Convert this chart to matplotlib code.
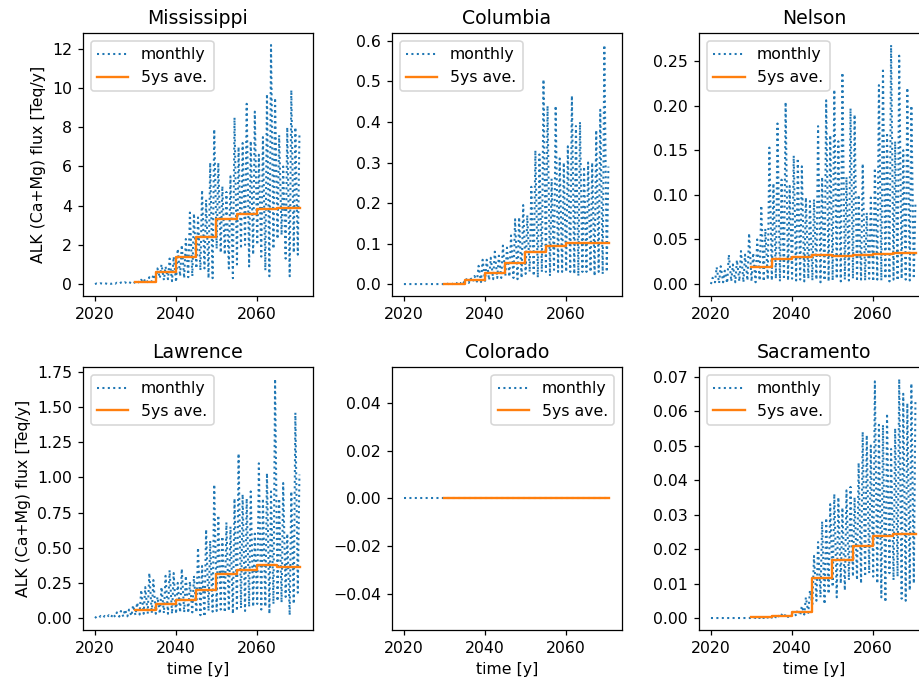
import numpy as np
import matplotlib
matplotlib.use('Agg')
import matplotlib.pyplot as plt

years = list(range(2020, 2071))
avg_years = [2030, 2035, 2040, 2045, 2050, 2055, 2060, 2065]
avg_end = 2070.6

# yearly peak / trough of the monthly flux [Teq/y]
miss_high = [0.03, 0.04, 0.05, 0.05, 0.06, 0.07, 0.08, 0.09, 0.10, 0.12,
             0.15, 0.22, 0.28, 0.35, 0.50, 0.80, 1.00, 0.90, 1.30, 1.40,
             1.80, 2.00, 2.30, 3.65, 3.60, 3.40, 4.80, 4.30, 6.20, 7.90,
             6.20, 5.00, 4.70, 5.50, 8.50, 7.00, 7.20, 9.20, 7.30, 8.80,
             6.60, 7.50, 9.70, 12.20, 9.50, 7.60, 6.00, 8.00, 9.90, 8.00,
             7.60]
miss_low = [0.0, 0.0, 0.01, 0.01, 0.01, 0.02, 0.02, 0.03, 0.03, 0.04,
            0.05, 0.06, 0.08, 0.10, 0.12, 0.20, 0.30, 0.20, 0.25, 0.15,
            0.10, 0.40, 0.30, 0.35, 0.40, 0.80, 0.70, 0.80, 0.30, 0.30,
            1.80, 1.60, 1.50, 0.80, 0.30, 1.00, 1.80, 2.00, 0.90, 1.50,
            2.00, 1.40, 0.70, 0.40, 1.80, 2.30, 2.50, 1.30, 0.40, 1.60,
            1.50]
miss_avg = [0.13, 0.60, 1.38, 2.40, 3.30, 3.60, 3.85, 3.90]

colu_high = [0, 0, 0, 0, 0, 0, 0, 0, 0, 0,
             0.002, 0.003, 0.004, 0.006, 0.008, 0.012, 0.015, 0.020, 0.045, 0.060,
             0.060, 0.065, 0.080, 0.070, 0.095, 0.090, 0.120, 0.160, 0.165, 0.195,
             0.170, 0.240, 0.330, 0.320, 0.505, 0.440, 0.260, 0.440, 0.310, 0.300,
             0.340, 0.465, 0.390, 0.400, 0.290, 0.300, 0.300, 0.380, 0.430, 0.590,
             0.290]
colu_low = [0, 0, 0, 0, 0, 0, 0, 0, 0, 0,
            0, 0, 0, 0.001, 0.001, 0.002, 0.003, 0.005, 0.006, 0.005,
            0.008, 0.010, 0.012, 0.015, 0.015, 0.020, 0.018, 0.015, 0.012, 0.015,
            0.025, 0.030, 0.020, 0.016, 0.030, 0.030, 0.020, 0.035, 0.030, 0.030,
            0.030, 0.030, 0.025, 0.020, 0.030, 0.030, 0.030, 0.020, 0.030, 0.025,
            0.030]
colu_avg = [0.001, 0.010, 0.027, 0.051, 0.080, 0.093, 0.101, 0.102]

nels_high = [0.007, 0.019, 0.020, 0.015, 0.033, 0.022, 0.027, 0.037, 0.033, 0.057,
             0.035, 0.050, 0.088, 0.062, 0.153, 0.113, 0.180, 0.117, 0.204, 0.110,
             0.144, 0.141, 0.132, 0.097, 0.093, 0.095, 0.177, 0.120, 0.206, 0.167,
             0.218, 0.160, 0.237, 0.120, 0.197, 0.190, 0.100, 0.135, 0.080, 0.097,
             0.130, 0.223, 0.242, 0.170, 0.268, 0.160, 0.256, 0.150, 0.220, 0.200,
             0.090]
nels_low = [0.000, 0.002, 0.001, 0.002, 0.001, 0.003, 0.002, 0.003, 0.002, 0.004,
            0.003, 0.002, 0.004, 0.003, 0.005, 0.004, 0.006, 0.003, 0.005, 0.004,
            0.006, 0.004, 0.005, 0.003, 0.006, 0.004, 0.005, 0.002, 0.004, 0.003,
            0.004, 0.006, 0.003, 0.005, 0.004, 0.006, 0.003, 0.005, 0.004, 0.006,
            0.003, 0.005, 0.004, 0.006, 0.003, 0.005, 0.004, 0.006, 0.005, 0.004,
            0.006]
nels_avg = [0.019, 0.028, 0.030, 0.033, 0.031, 0.033, 0.034, 0.0345]

lawr_high = [0.010, 0.015, 0.015, 0.020, 0.030, 0.040, 0.050, 0.060, 0.060, 0.090,
             0.110, 0.200, 0.220, 0.320, 0.270, 0.150, 0.220, 0.300, 0.340, 0.320,
             0.250, 0.350, 0.300, 0.260, 0.300, 0.500, 0.370, 0.630, 0.550, 0.950,
             0.730, 0.580, 0.680, 0.650, 0.850, 1.170, 0.880, 0.850, 0.900, 0.600,
             1.100, 0.850, 1.030, 0.900, 1.700, 0.850, 0.960, 0.600, 0.900, 1.460,
             1.020]
lawr_low = [0.000, 0.002, 0.003, 0.005, 0.005, 0.008, 0.010, 0.010, 0.012, 0.015,
            0.020, 0.025, 0.030, 0.030, 0.035, 0.030, 0.030, 0.035, 0.030, 0.030,
            0.030, 0.040, 0.040, 0.035, 0.040, 0.040, 0.020, 0.010, 0.050, 0.045,
            0.050, 0.060, 0.040, 0.050, 0.030, 0.050, 0.070, 0.050, 0.080, 0.080,
            0.100, 0.060, 0.080, 0.030, 0.100, 0.120, 0.110, 0.150, 0.020, 0.100,
            0.180]
lawr_avg = [0.057, 0.100, 0.125, 0.200, 0.310, 0.340, 0.375, 0.365]

colo_high = [0.0] * len(years)
colo_low = [0.0] * len(years)
colo_avg = [0.0] * len(avg_years)

sacr_high = [0, 0, 0, 0, 0, 0, 0, 0, 0, 0,
             0.0003, 0.0004, 0.0005, 0.0005, 0.0006, 0.0008, 0.0009, 0.0010, 0.0011, 0.0012,
             0.0020, 0.0025, 0.0035, 0.0060, 0.0080, 0.0180, 0.0220, 0.0280, 0.0290, 0.0330,
             0.0360, 0.0350, 0.0320, 0.0370, 0.0380, 0.0350, 0.0450, 0.0540, 0.0530, 0.0500,
             0.0686, 0.0560, 0.0560, 0.0593, 0.0490, 0.0550, 0.0693, 0.0650, 0.0623, 0.0680,
             0.0630]
sacr_low = [0, 0, 0, 0, 0, 0, 0, 0, 0, 0,
            0, 0, 0, 0, 0.0001, 0.0001, 0.0002, 0.0002, 0.0002, 0.0003,
            0.0005, 0.0006, 0.0008, 0.0010, 0.0015, 0.0040, 0.0050, 0.0060, 0.0040, 0.0070,
            0.0090, 0.0060, 0.0100, 0.0080, 0.0110, 0.0120, 0.0110, 0.0100, 0.0120, 0.0130,
            0.0120, 0.0100, 0.0060, 0.0046, 0.0130, 0.0110, 0.0120, 0.0056, 0.0050, 0.0080,
            0.0100]
sacr_avg = [0.0002, 0.0005, 0.0017, 0.0115, 0.0167, 0.0208, 0.0238, 0.0245]

rivers = ['Mississippi', 'Columbia', 'Nelson', 'Lawrence', 'Colorado', 'Sacramento']
highs = [miss_high, colu_high, nels_high, lawr_high, colo_high, sacr_high]
lows = [miss_low, colu_low, nels_low, lawr_low, colo_low, sacr_low]
avgs = [miss_avg, colu_avg, nels_avg, lawr_avg, colo_avg, sacr_avg]

dpi = 113
fig = plt.figure(figsize=(919 / dpi, 687 / dpi), dpi=dpi)
lefts = [0.0903, 0.4265, 0.7606]
bottoms = [0.5691, 0.0830]

for k, name in enumerate(rivers):
    r, c = divmod(k, 3)
    ax = fig.add_axes([lefts[c], bottoms[r], 0.2503, 0.3828])

    # trough then peak within each year
    yr = np.array(years, dtype=float)
    t = np.column_stack([yr + 0.05, yr + 0.45]).ravel()
    v = np.column_stack([lows[k], highs[k]]).ravel()
    ax.plot(t, v, ':', color='C0', lw=1.3, label='monthly')

    ta = avg_years + [avg_end]
    va = avgs[k] + [avgs[k][-1]]
    ax.plot(ta, va, '-', color='C1', drawstyle='steps-post', label='5ys ave.')

    ax.set_xlim(2017.1, 2073.8)
    ax.set_xticks([2020, 2040, 2060])
    ax.set_title(name)
    if c == 0:
        ax.set_ylabel('ALK (Ca+Mg) flux [Teq/y]')
    if r == 1:
        ax.set_xlabel('time [y]')
    ax.legend(loc='upper right' if name == 'Colorado' else 'upper left')

fig.savefig('out.png', dpi=dpi)
